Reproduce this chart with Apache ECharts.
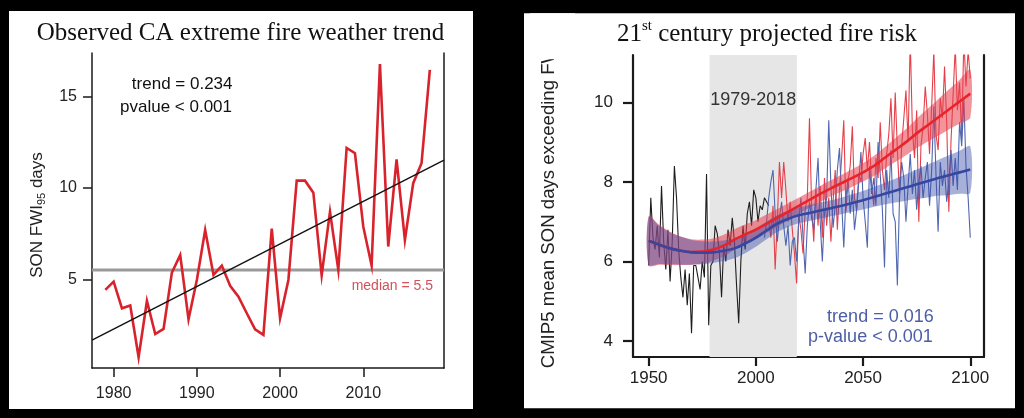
<!DOCTYPE html>
<html>
<head>
<meta charset="utf-8">
<title>CA fire weather</title>
<script src="https://cdn.jsdelivr.net/npm/echarts@6.0.0/dist/echarts.min.js"></script>
<style>
  html, body { margin: 0; padding: 0; background: #000; }
  #chart { width: 1024px; height: 418px; }
</style>
</head>
<body>
<div id="chart"></div>
<script>
// ---- left panel: observed SON FWI95 days ----
var obsYears = [1979, 1980, 1981, 1982, 1983, 1984, 1985, 1986, 1987, 1988,
  1989, 1990, 1991, 1992, 1993, 1994, 1995, 1996, 1997, 1998,
  1999, 2000, 2001, 2002, 2003, 2004, 2005, 2006, 2007, 2008,
  2009, 2010, 2011, 2012, 2013, 2014, 2015, 2016, 2017, 2018];
var obsValues = [4.42, 4.87, 3.41, 3.56, 0.73, 3.81, 2.0, 2.28, 5.36, 6.33,
  2.81, 4.96, 7.7, 5.24, 5.75, 4.64, 4.05, 3.14, 2.26, 1.95,
  7.77, 2.86, 4.96, 10.4, 10.4, 9.74, 5.22, 8.69, 5.51, 12.19,
  11.9, 7.88, 5.75, 16.79, 6.79, 11.57, 7.15, 10.26, 11.35, 16.46];
var trendYears = [1977.4, 2019.7];
var trendValues = [1.66, 11.52];
var medianValue = 5.5;
var obsXTicks = [1980, 1990, 2000, 2010];
var obsYTicks = [5, 10, 15];

// ---- right panel: CMIP5 projections ----
var histStart = 1950;   // black, observed-era model mean
var histValues = [5.9, 7.6, 6.6, 6.3, 6.9, 6.1, 7.9, 6.5, 5.8, 6.8,
  5.5, 6.5, 8.4, 7.6, 6.3, 5.6, 5.1, 5.8, 4.9, 5.7,
  4.2, 5.9, 5.9, 5.6, 5.3, 6.0, 5.6, 8.2, 4.4, 5.9,
  6.0, 6.9, 6.7, 6.2, 5.1, 6.4, 6.0, 6.8, 6.4, 7.1,
  6.5, 5.4, 4.45, 6.0, 6.9, 6.3, 7.2, 7.5, 6.9, 7.8,
  7.6, 7.0, 7.4, 7.3, 7.6, 7.5, 7.4];
var redStart = 2006;
var redValues = [7.0, 6.6, 7.4, 5.8,
  7.0, 8.5, 7.6, 8.5, 7.8, 7.0, 7.5, 6.8, 6.2, 5.45,
  7.2, 6.8, 6.2, 7.3, 7.6, 9.6, 7.4, 6.5, 7.8, 6.9,
  7.9, 6.6, 8.1, 6.9, 7.6, 6.5, 7.5, 8.3, 6.8, 7.8,
  8.6, 9.55, 7.25, 8.0, 8.4, 9.4, 7.6, 7.3, 8.2, 8.0,
  8.7, 9.1, 8.3, 9.0, 7.9, 7.4, 8.6, 8.1, 9.5, 8.3,
  7.8, 8.7, 9.2, 10.1, 8.6, 10.25, 8.8, 7.7, 8.9, 9.6,
  10.3, 9.0, 11.6, 9.3, 8.6, 9.8, 7.0, 8.9, 9.4, 10.4,
  9.7, 8.7, 9.9, 11.3, 9.2, 8.8, 10.1, 9.6, 10.9, 9.5,
  7.25, 9.0, 10.2, 11.4, 9.8, 10.5, 9.1, 11.6, 10.4, 11.3, 10.6];
var blueStart = 2004;
var blueValues = [6.6, 7.0, 7.6, 8.0, 8.3, 7.2,
  6.5, 7.1, 7.5, 6.9, 6.4, 6.9, 5.9, 6.5, 6.6, 6.0,
  7.0, 7.6, 6.6, 5.7, 6.9, 7.5, 7.1, 6.8, 7.8, 8.6,
  7.0, 6.0, 7.2, 7.6, 9.55, 7.9, 6.85, 7.4, 8.3, 8.85,
  7.5, 6.35, 7.6, 8.1, 7.2, 7.8, 6.8, 7.3, 8.0, 8.75,
  7.6, 7.0, 6.35, 8.4, 7.7, 8.1, 7.4, 9.0, 8.2, 7.3,
  5.85, 8.3, 7.6, 8.8, 7.2, 7.0, 5.4, 7.6, 8.5, 8.1,
  7.0, 7.9, 8.7, 7.7, 8.3, 7.3, 8.0, 8.4, 7.6, 8.1,
  8.5, 7.4, 8.3, 9.9, 8.2, 6.75, 8.5, 7.9, 8.3, 7.5,
  8.0, 8.8, 7.9, 8.6, 7.8, 9.5, 8.9, 10.1, 8.4, 7.6, 6.6];

// smooth fits with confidence bands
var fitYears = [1950, 1955, 1960, 1965, 1970, 1975, 1980, 1985, 1990, 1995, 2000,
  2005, 2010, 2015, 2020, 2025, 2030, 2035, 2040, 2045, 2050,
  2055, 2060, 2065, 2070, 2075, 2080, 2085, 2090, 2095, 2100];
var redFit = [6.52, 6.42, 6.33, 6.27, 6.24, 6.25, 6.30, 6.40, 6.55, 6.68, 6.80,
  6.95, 7.10, 7.25, 7.40, 7.55, 7.70, 7.84, 7.97, 8.10, 8.24,
  8.40, 8.60, 8.80, 9.00, 9.22, 9.42, 9.62, 9.82, 10.02, 10.22];
var redLow = [5.90, 5.92, 5.91, 5.91, 5.92, 5.95, 6.02, 6.13, 6.29, 6.43, 6.56,
  6.72, 6.88, 7.04, 7.20, 7.35, 7.50, 7.64, 7.76, 7.88, 8.01,
  8.15, 8.33, 8.50, 8.67, 8.85, 9.01, 9.16, 9.32, 9.47, 9.62];
var redHigh = [7.14, 6.92, 6.75, 6.63, 6.56, 6.55, 6.58, 6.67, 6.81, 6.93, 7.04,
  7.18, 7.32, 7.46, 7.60, 7.75, 7.90, 8.04, 8.18, 8.32, 8.47,
  8.65, 8.87, 9.10, 9.33, 9.59, 9.83, 10.08, 10.32, 10.57, 10.82];
var blueFit = [6.52, 6.42, 6.33, 6.27, 6.23, 6.22, 6.23, 6.27, 6.33, 6.45, 6.60,
  6.78, 6.95, 7.07, 7.16, 7.22, 7.28, 7.34, 7.40, 7.47, 7.54,
  7.62, 7.70, 7.78, 7.86, 7.94, 8.02, 8.10, 8.17, 8.24, 8.31];
var blueLow = [5.92, 5.94, 5.93, 5.92, 5.92, 5.93, 5.96, 6.01, 6.08, 6.21, 6.37,
  6.56, 6.74, 6.87, 6.96, 7.02, 7.08, 7.14, 7.19, 7.25, 7.31,
  7.37, 7.43, 7.48, 7.53, 7.57, 7.61, 7.65, 7.67, 7.70, 7.73];
var blueHigh = [7.12, 6.90, 6.73, 6.62, 6.54, 6.51, 6.50, 6.53, 6.58, 6.69, 6.83,
  7.00, 7.16, 7.27, 7.36, 7.42, 7.48, 7.54, 7.61, 7.69, 7.77,
  7.87, 7.97, 8.08, 8.19, 8.31, 8.43, 8.55, 8.67, 8.78, 8.89];
var shadeRange = [1978.4, 2019.1];
var shadeLabel = '1979-2018';
var projXTicks = [1950, 2000, 2050, 2100];
var projYTicks = [4, 6, 8, 10];

var FONT = '"Liberation Sans", Arial, sans-serif';
var SERIF = '"Liberation Serif", "Times New Roman", serif';

function pairs(xs, ys) {
  return xs.map(function (x, i) { return [x, ys[i]]; });
}

function annual(start, values) {
  return values.map(function (v, i) { return [start + i, v]; });
}

function plain(v) {
  return String(v);
}

function xAxisFor(grid, min, max, ticks, tickLen, width, margin, size) {
  return {
    type: 'value', gridIndex: grid, min: min, max: max,
    axisLine: { onZero: false, lineStyle: { color: '#1a1a1a', width: width } },
    axisTick: { customValues: ticks, length: tickLen, lineStyle: { color: '#1a1a1a', width: width } },
    axisLabel: { customValues: ticks, formatter: plain, margin: margin, color: '#222', fontSize: size, fontFamily: FONT },
    splitLine: { show: false }
  };
}

function yAxisFor(grid, min, max, ticks, tickLen, width, margin, size) {
  return {
    type: 'value', gridIndex: grid, min: min, max: max,
    axisLine: { show: true, onZero: false, lineStyle: { color: '#1a1a1a', width: width } },
    axisTick: { customValues: ticks, length: tickLen, lineStyle: { color: '#1a1a1a', width: width } },
    axisLabel: { customValues: ticks, formatter: plain, margin: margin, color: '#222', fontSize: size, fontFamily: FONT },
    splitLine: { show: false }
  };
}

function rightLine(grid, min, max, width) {
  return {
    type: 'value', gridIndex: grid, position: 'right', min: min, max: max,
    axisLine: { show: true, onZero: false, lineStyle: { color: '#1a1a1a', width: width } },
    axisTick: { show: false }, axisLabel: { show: false }, splitLine: { show: false }
  };
}

function band(low, high, color, z) {
  return {
    type: 'custom', xAxisIndex: 1, yAxisIndex: 2, z: z, silent: true,
    data: [[fitYears[0], low[0]]],
    renderItem: function (params, api) {
      var pts = [];
      for (var i = 0; i < fitYears.length; i++) pts.push(api.coord([fitYears[i], high[i]]));
      for (var j = fitYears.length - 1; j >= 0; j--) pts.push(api.coord([fitYears[j], low[j]]));
      return { type: 'polygon', shape: { points: pts, smooth: 0.3 }, style: { fill: color } };
    }
  };
}

var chart = echarts.init(document.getElementById('chart'), null, { renderer: 'canvas' });

var option = {
  backgroundColor: '#000',
  animation: false,
  grid: [
    { left: 92, top: 53, width: 352, height: 315, outerBoundsMode: 'none' },
    { left: 633, top: 55, width: 351, height: 302, outerBoundsMode: 'none' }
  ],
  xAxis: [
    xAxisFor(0, 1977.4, 2019.7, obsXTicks, 9, 1.5, 18, 16),
    xAxisFor(1, 1942.7, 2106.4, projXTicks, 9, 2.2, 13, 17)
  ],
  yAxis: [
    yAxisFor(0, 0.14, 17.39, obsYTicks, 9, 1.5, 15, 16),
    rightLine(0, 0.14, 17.39, 1.5),
    yAxisFor(1, 3.6, 11.19, projYTicks, 10, 2.2, 20, 17),
    rightLine(1, 3.6, 11.19, 2.2)
  ],
  graphic: [
    { type: 'rect', z: -10, silent: true, shape: { x: 9, y: 11, width: 464, height: 398 }, style: { fill: '#fff' } },
    { type: 'rect', z: -10, silent: true, shape: { x: 524, y: 13.3, width: 491, height: 395 }, style: { fill: '#fff' } },
    {
      type: 'text', x: 240.5, y: 33, z: 10,
      style: { text: 'Observed CA extreme fire weather trend', font: '25px ' + SERIF, fill: '#111', align: 'center', verticalAlign: 'middle' }
    },
    {
      type: 'text', x: 767, y: 34, z: 10,
      style: {
        text: '21{sup|st} century projected fire risk', fontSize: 25, fontFamily: SERIF, fill: '#111',
        align: 'center', verticalAlign: 'middle', lineHeight: 30,
        rich: { sup: { fontSize: 15, fontFamily: SERIF, lineHeight: 16, verticalAlign: 'top' } }
      }
    },
    {
      type: 'text', x: 37, y: 215, rotation: Math.PI / 2, z: 10,
      style: {
        text: 'SON FWI{sub|95} days', fontSize: 17, fontFamily: FONT, fill: '#222',
        align: 'center', verticalAlign: 'middle', lineHeight: 20,
        rich: { sub: { fontSize: 11, fontFamily: FONT, lineHeight: 11, verticalAlign: 'bottom' } }
      }
    },
    {
      type: 'text', x: 549, y: 368.3, rotation: Math.PI / 2, z: 10,
      style: {
        text: 'CMIP5 mean SON days exceeding FWI{sub|95}', fontSize: 18.6, fontFamily: FONT, fill: '#222',
        align: 'left', verticalAlign: 'middle', lineHeight: 22,
        rich: { sub: { fontSize: 12, fontFamily: FONT, lineHeight: 13, verticalAlign: 'bottom' } }
      }
    },
    // the source figure cuts the axis title off at the plot top
    { type: 'rect', z: 100, silent: true, shape: { x: 530, y: 13.3, width: 45, height: 46 }, style: { fill: '#fff' } },
    {
      type: 'text', x: 232.5, y: 84, z: 10,
      style: { text: 'trend = 0.234', font: '17px ' + FONT, fill: '#111', align: 'right', verticalAlign: 'middle' }
    },
    {
      type: 'text', x: 232, y: 107, z: 10,
      style: { text: 'pvalue < 0.001', font: '17px ' + FONT, fill: '#111', align: 'right', verticalAlign: 'middle' }
    },
    {
      type: 'text', x: 433, y: 286, z: 10,
      style: { text: 'median = ' + medianValue, font: '14px ' + FONT, fill: '#d4505a', align: 'right', verticalAlign: 'middle' }
    },
    {
      type: 'text', x: 933.7, y: 316.7, z: 10,
      style: { text: 'trend = 0.016', font: '18px ' + FONT, fill: '#4b5ea6', align: 'right', verticalAlign: 'middle' }
    },
    {
      type: 'text', x: 932.7, y: 337.5, z: 10,
      style: { text: 'p-value < 0.001', font: '18px ' + FONT, fill: '#4b5ea6', align: 'right', verticalAlign: 'middle' }
    }
  ],
  series: [
    // left panel
    {
      type: 'line', xAxisIndex: 0, yAxisIndex: 0, z: 2, symbol: 'none', silent: true,
      data: [[1977.4, medianValue], [2019.7, medianValue]],
      lineStyle: { color: '#9a9a9a', width: 3 }
    },
    {
      type: 'line', xAxisIndex: 0, yAxisIndex: 0, z: 3, symbol: 'none', silent: true,
      data: pairs(obsYears, obsValues),
      lineStyle: { color: '#d8232c', width: 2.6, join: 'miter' }
    },
    {
      type: 'line', xAxisIndex: 0, yAxisIndex: 0, z: 4, symbol: 'none', silent: true,
      data: pairs(trendYears, trendValues),
      lineStyle: { color: '#111', width: 1.4 }
    },
    // right panel: observation period shading
    {
      type: 'custom', xAxisIndex: 1, yAxisIndex: 2, z: 1, silent: true,
      data: [shadeRange],
      renderItem: function (params, api) {
        var cs = params.coordSys;
        var x0 = api.coord([shadeRange[0], 5])[0];
        var x1 = api.coord([shadeRange[1], 5])[0];
        return {
          type: 'group',
          children: [
            { type: 'rect', shape: { x: x0, y: cs.y, width: x1 - x0, height: cs.height }, style: { fill: '#e6e6e6' } },
            {
              type: 'text', x: (x0 + x1) / 2, y: 100,
              style: { text: shadeLabel, font: '18px ' + FONT, fill: '#333', align: 'center', verticalAlign: 'middle' }
            }
          ]
        };
      }
    },
    {
      type: 'line', xAxisIndex: 1, yAxisIndex: 2, z: 2, symbol: 'none', silent: true,
      data: annual(histStart, histValues),
      lineStyle: { color: '#1e1e1e', width: 1.1 }
    },
    {
      type: 'line', xAxisIndex: 1, yAxisIndex: 2, z: 2, symbol: 'none', silent: true,
      data: annual(redStart, redValues),
      lineStyle: { color: '#e5404a', width: 1.1 }
    },
    {
      type: 'line', xAxisIndex: 1, yAxisIndex: 2, z: 2, symbol: 'none', silent: true,
      data: annual(blueStart, blueValues),
      lineStyle: { color: '#4f66b0', width: 1.1 }
    },
    band(redLow, redHigh, 'rgba(232, 60, 75, 0.55)', 3),
    band(blueLow, blueHigh, 'rgba(60, 80, 170, 0.45)', 3),
    {
      type: 'line', xAxisIndex: 1, yAxisIndex: 2, z: 4, symbol: 'none', silent: true, smooth: 0.4,
      data: pairs(fitYears, redFit),
      lineStyle: { color: '#e8232b', width: 2.6 }
    },
    {
      type: 'line', xAxisIndex: 1, yAxisIndex: 2, z: 4, symbol: 'none', silent: true, smooth: 0.4,
      data: pairs(fitYears, blueFit),
      lineStyle: { color: '#3547a0', width: 2.6 }
    }
  ]
};

chart.setOption(option);
window.addEventListener('resize', chart.resize);
</script>
</body>
</html>
